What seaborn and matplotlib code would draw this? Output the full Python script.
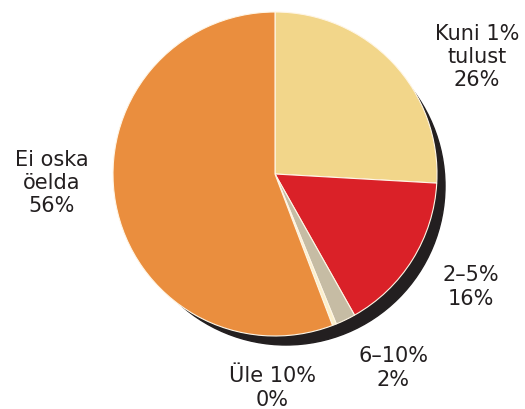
import matplotlib
matplotlib.use("Agg")
import matplotlib.pyplot as plt
from matplotlib.patches import Circle
import seaborn as sns

# Survey shares (percent), clockwise from 12 o'clock
categories = ["Kuni 1%\ntulust", "2–5%", "6–10%", "Üle 10%", "Ei oska\nöelda"]
shares = [26, 16, 2, 0.4, 56]
share_labels = ["26%", "16%", "2%", "0%", "56%"]
colors = ["#F2D68A", "#DA2128", "#C6BCA4", "#FBEFC9", "#EA8E3E"]

sns.set_style("white")
plt.rcParams["font.family"] = ["DejaVu Sans"]

W, H = 525, 410
fig = plt.figure(figsize=(W / 100, H / 100), dpi=100)
ax = fig.add_axes([0, 0, 1, 1])

cx, cy, r = 275, H - 175, 162

# drop shadow behind the pie, offset down and to the right
ax.add_patch(Circle((cx + 11, cy - 12), r - 3, color="#231F20", zorder=1))

ax.pie(shares, colors=colors, startangle=90, counterclock=False,
       center=(cx, cy), radius=r, frame=True,
       wedgeprops=dict(edgecolor="#FFF6E6", linewidth=0.8, zorder=2))
ax.set_xlim(0, W)
ax.set_ylim(0, H)
ax.set_aspect("equal")
ax.axis("off")

label_pos = [(477, 57), (471, 287), (393, 368), (272, 388), (52, 183)]
for cat, lab, (x, y) in zip(categories, share_labels, label_pos):
    ax.text(x, H - y, f"{cat}\n{lab}", ha="center", va="center",
            multialignment="center", fontsize=15, linespacing=1.2,
            color="#231F20", zorder=5)

fig.savefig("out.png", dpi=100)
